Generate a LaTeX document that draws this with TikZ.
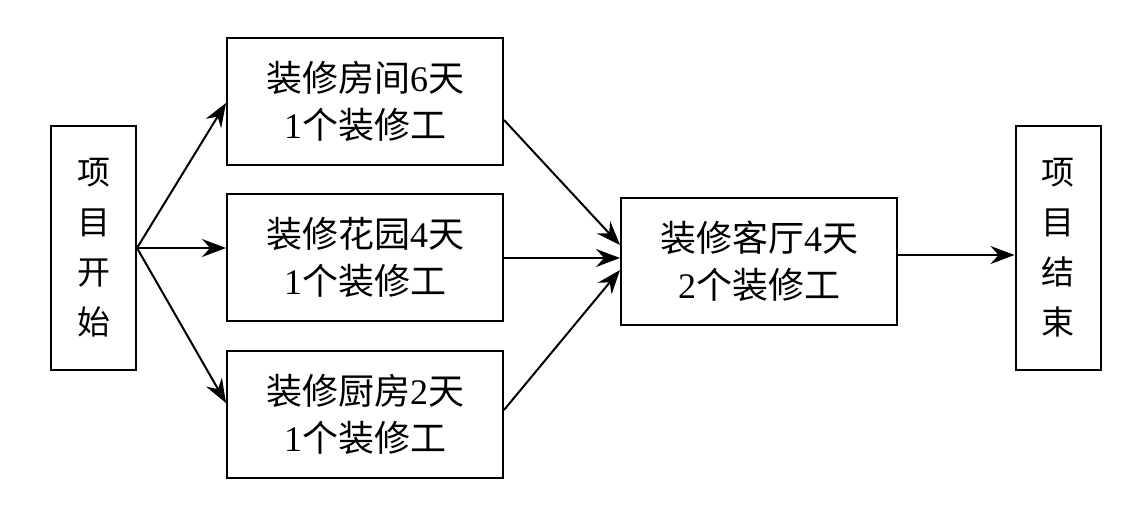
\documentclass[tikz,border=0pt]{standalone}
\usepackage{fontspec}
\setmainfont{Liberation Serif}
\newfontfamily\cjk{Noto Sans CJK SC}
\usetikzlibrary{arrows.meta}
\tikzset{
  box/.style={draw, line width=2pt, minimum width=276pt, minimum height=127pt, align=center, inner sep=0pt, font=\fontsize{36}{47}\selectfont},
  vbox/.style={draw, line width=2pt, minimum width=85pt, minimum height=244pt, align=center, inner sep=0pt, font=\cjk\fontsize{33}{50}\selectfont},
  conn/.style={line width=2pt, -{Stealth[length=24pt, width=18pt, inset=8pt]}}
}
\begin{document}
\begin{tikzpicture}[x=1pt, y=-1pt]
\useasboundingbox (0,0) rectangle (1144,522);
\node[vbox] (start) at (93.5,248) {项\\目\\开\\始};
\node[box] (room) at (365,101.5) {{\cjk 装修房间}6{\cjk 天}\\1{\cjk 个装修工}};
\node[box] (garden) at (365,257) {{\cjk 装修花园}4{\cjk 天}\\1{\cjk 个装修工}};
\node[box] (kitchen) at (365,414.5) {{\cjk 装修厨房}2{\cjk 天}\\1{\cjk 个装修工}};
\node[box] (living) at (759,261) {{\cjk 装修客厅}4{\cjk 天}\\2{\cjk 个装修工}};
\node[vbox] (end) at (1058,248) {项\\目\\结\\束};
\coordinate (s) at (start.east |- 0,248);
\coordinate (r1) at (room.west |- 0,103);
\coordinate (g1) at (garden.west |- 0,248);
\coordinate (k1) at (kitchen.west |- 0,403);
\coordinate (r2) at (room.east |- 0,120);
\coordinate (g2) at (garden.east |- 0,258);
\coordinate (k2) at (kitchen.east |- 0,410);
\coordinate (l1) at (living.west |- 0,245);
\coordinate (l2) at (living.west |- 0,258);
\coordinate (l3) at (living.west |- 0,270);
\coordinate (lo) at (living.east |- 0,255);
\coordinate (ei) at (end.west |- 0,255);
\draw[conn] (s) -- (r1);
\draw[conn] (s) -- (g1);
\draw[conn] (s) -- (k1);
\draw[conn] (r2) -- (l1);
\draw[conn] (g2) -- (l2);
\draw[conn] (k2) -- (l3);
\draw[conn] (lo) -- (ei);
\end{tikzpicture}
\end{document}
